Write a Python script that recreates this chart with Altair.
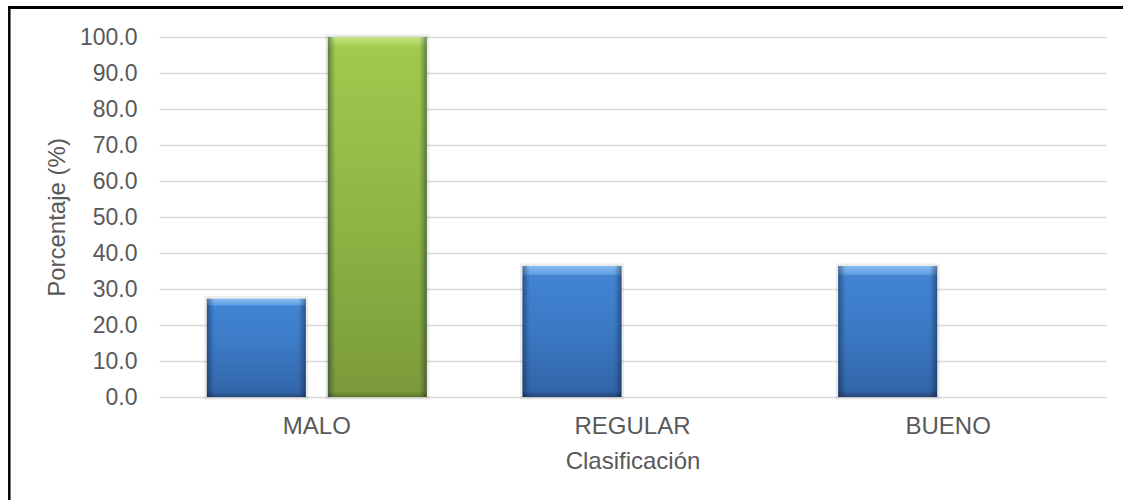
import altair as alt
import pandas as pd

# Porcentaje por clasificación, dos series agrupadas
categorias = ["MALO", "REGULAR", "BUENO"]
series = ["Serie 1", "Serie 2"]
serie_1 = [27.3, 36.4, 36.4]
serie_2 = [100.0, 0.0, 0.0]
ticks_y = [0, 10, 20, 30, 40, 50, 60, 70, 80, 90, 100]

df = pd.DataFrame({
    "cat": categorias * 2,
    "serie": [series[0]] * len(categorias) + [series[1]] * len(categorias),
    "pct": serie_1 + serie_2,
})

FONT = "Liberation Sans, Arial, sans-serif"
TXT = "#595959"
W, H = 947, 360

x_enc = alt.X(
    "cat:N",
    sort=categorias,
    scale=alt.Scale(paddingInner=0, paddingOuter=0),
    axis=alt.Axis(
        title="Clasificación", labelAngle=0, ticks=False, domain=False, grid=False,
        labelFont=FONT, labelFontSize=24, labelColor=TXT, labelPadding=17,
        titleFont=FONT, titleFontSize=24, titleColor=TXT, titleFontWeight="normal",
        titleBaseline="alphabetic", titleY=71, titleX=W / 2,
    ),
)
xo_enc = alt.XOffset(
    "serie:N",
    sort=series,
    scale=alt.Scale(domain=series, paddingInner=0.1818, paddingOuter=0.3956),
)
y_enc = alt.Y(
    "pct:Q",
    scale=alt.Scale(domain=[0, 100], nice=False),
    axis=alt.Axis(
        title="Porcentaje (%)", values=ticks_y, format=".1f", ticks=False, domain=False,
        grid=True, gridColor="#D9D9D9", gridWidth=1.5,
        labelFont=FONT, labelFontSize=23, labelColor=TXT, labelPadding=22,
        titleFont=FONT, titleFontSize=24, titleColor=TXT, titleFontWeight="normal",
        titleAngle=270, titleAlign="center", titleBaseline="middle",
        titleX=-102, titleY=H / 2,
    ),
)

base = alt.Chart(df).encode(x=x_enc, xOffset=xo_enc, y=y_enc)


def vgrad(stops):
    return alt.LinearGradient(
        gradient="linear", x1=0, y1=0, x2=0, y2=1,
        stops=[alt.GradientStop(color=c, offset=o) for o, c in stops],
    )


azul = vgrad([
    (0.0, "#86BBF0"), (0.06, "#62A1E5"), (0.075, "#4184D3"),
    (0.5, "#3B79C4"), (0.95, "#3266A9"), (1.0, "#23467A"),
])
verde = vgrad([
    (0.0, "#C3E484"), (0.02, "#ADD55E"), (0.028, "#A0CA4E"),
    (0.5, "#8EB545"), (0.985, "#7B9B3A"), (1.0, "#5C7829"),
])
bordes = alt.LinearGradient(
    gradient="linear", x1=0, y1=0, x2=1, y2=0,
    stops=[
        alt.GradientStop(color="rgba(10,20,40,0.45)", offset=0.0),
        alt.GradientStop(color="rgba(10,20,40,0.12)", offset=0.05),
        alt.GradientStop(color="rgba(0,0,0,0)", offset=0.08),
        alt.GradientStop(color="rgba(0,0,0,0)", offset=0.92),
        alt.GradientStop(color="rgba(10,20,40,0.12)", offset=0.95),
        alt.GradientStop(color="rgba(10,20,40,0.45)", offset=1.0),
    ],
)

sombra = base.transform_filter(alt.datum.pct > 0).mark_bar(
    fillOpacity=0, stroke="#000000", strokeOpacity=0.08, strokeWidth=5
)
barras_1 = base.transform_filter(alt.datum.serie == series[0]).mark_bar(color=azul)
barras_2 = base.transform_filter(alt.datum.serie == series[1]).mark_bar(color=verde)
relieve = base.mark_bar(color=bordes)

# marco exterior del gráfico
marco = alt.Chart(pd.DataFrame({"k": [0]}))
marco_sup = marco.mark_rule(color="#000000", strokeWidth=3).encode(
    x=alt.value(-151), x2=alt.value(W + 20), y=alt.value(-29.5)
)
marco_izq = marco.mark_rule(color="#000000", strokeWidth=2.5).encode(
    x=alt.value(-149.7), y=alt.value(-31), y2=alt.value(H + 110)
)

chart = (
    alt.layer(sombra, barras_1, barras_2, relieve, marco_sup, marco_izq)
    .properties(
        width=W, height=H,
        autosize=alt.AutoSizeParams(type="none"),
        padding={"left": 159, "top": 37, "right": 17, "bottom": 103},
        background="#FFFFFF",
    )
    .configure_view(stroke=None)
)

chart.save("out.html", embed_options={"renderer": "svg", "actions": False})
